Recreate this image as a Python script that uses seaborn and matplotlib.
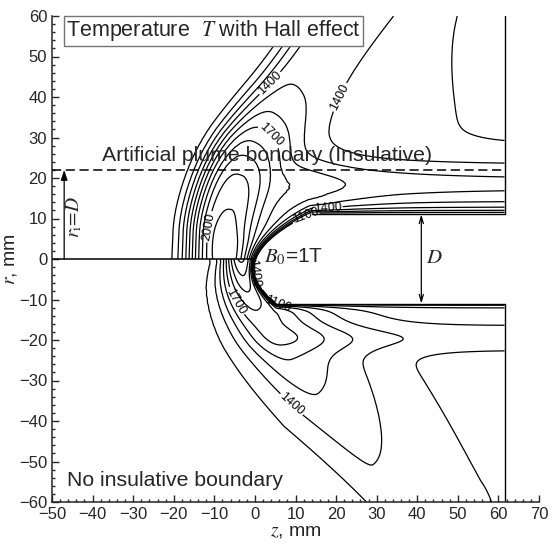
import numpy as np
import matplotlib
matplotlib.use("Agg")
import matplotlib.pyplot as plt
from matplotlib.ticker import MultipleLocator
import seaborn as sns

# temperature levels, K
levels = np.arange(1100, 2200, 100)

# geometry, mm
z_lim = (-50, 70)
r_lim = (-60, 60)
z_exit = 61.5          # right end of the computed region
r_wall = 11.0          # channel walls at r = +-11
r_plume = 22.0         # artificial plume boundary, r_i = D
nose_r0 = -2.5         # axis of the rounded nose
nose_len = 14.0
nose_half = 13.5
z_arrow_ri = -47.0
z_arrow_D = 41.0

# upper half (insulative boundary): hot plume ridge
up_ridge_z = [-6.5, -6.5, -6.5, -3, 3, 10, 17, 23, 30]
up_ridge_r = [-5, 2, 10, 22, 32, 42, 53, 62, 72]
up_floor, up_tail, up_peak, up_s0, up_len = 1000, 455, 680, 30.0, 6.4
up_core_amp, up_core_z, up_core_r = 60, -7.5, 3.0
up_wall_T, up_wall_len = 950, 1.1
# warm right side, cool top-right pocket, warm layer over the upper wall
up_side_base, up_side_frac, up_side_len = 290, 0.9, 16.4
up_pocket_amp, up_pocket_z, up_pocket_r = 60, 66.0, 62.0
up_layer_amp, up_layer_r, up_layer_w = 225, 18.5, 6.0

# lower half (no insulative boundary): diagonal hot tongue
lo_ridge_z = [-3.5, -3.5, -1.5, 6, 28, 40]
lo_ridge_r = [5, 0, -9, -21, -49, -66]
lo_floor, lo_tail, lo_peak, lo_len = 1250, 80, 800, 25
lo_wall_T, lo_wall_len = 950, 0.6
lo_layer_amp, lo_layer_r, lo_layer_w = 110, -19.5, 3.5

# contour labels: level and where it sits
up_labels = [(1400, 1, 46), (1400, 25, 38), (1400, 18, 14.5), (1700, 1, 28),
             (2000, -12, 8), (1100, 12, 11.6)]
lo_labels = [(1400, -0.5, -3.5), (1400, 8.5, -36.5), (1700, -8, -12), (1100, 12, -11.3)]


def sig(v):
    return 1.0 / (1.0 + np.exp(-v))


def smooth_path(pz, pr, rounds=3):
    p = np.column_stack([pz, pr]).astype(float)
    for _ in range(rounds):
        q = 0.75 * p[:-1] + 0.25 * p[1:]
        r = 0.25 * p[:-1] + 0.75 * p[1:]
        mid = np.empty((2 * len(q), 2))
        mid[0::2], mid[1::2] = q, r
        p = np.vstack([p[:1], mid[1:-1], p[-1:]])
    return p[:, 0], p[:, 1]


def ridge_frame(Z, R, pz, pr):
    pz, pr = smooth_path(pz, pr)
    best = np.full(Z.shape, np.inf)
    s_out = np.zeros(Z.shape)
    n_out = np.zeros(Z.shape)
    s0 = 0.0
    for az, ar, bz, br in zip(pz[:-1], pr[:-1], pz[1:], pr[1:]):
        L = np.hypot(bz - az, br - ar)
        uz, ur = (bz - az) / L, (br - ar) / L
        t = np.clip((Z - az) * uz + (R - ar) * ur, 0, L)
        d = np.hypot(Z - az - t * uz, R - ar - t * ur)
        side = np.where(uz * (R - ar) - ur * (Z - az) >= 0, 1.0, -1.0)
        m = d < best
        best[m] = d[m]
        s_out[m] = s0 + t[m]
        n_out[m] = side[m] * d[m]
        s0 += L
    return s_out, n_out


def nose_z(r):
    return nose_len * ((r - nose_r0) / nose_half) ** 2


def body_distance(Z, R):
    rs = np.linspace(-r_wall, r_wall, 500)
    zs = nose_z(rs)
    d = np.full(Z.shape, np.inf)
    for zz, rr in zip(zs, rs):
        d = np.minimum(d, np.hypot(Z - zz, R - rr))
    for rw in (r_wall, -r_wall):
        z0 = nose_z(rw)
        dw = np.where(Z >= z0, np.abs(R - rw), np.hypot(Z - z0, R - rw))
        d = np.minimum(d, dw)
    inside = (np.abs(R) <= r_wall) & (Z >= nose_z(np.clip(R, -r_wall, r_wall)))
    return d, inside


def upper_field(Z, R):
    s, n = ridge_frame(Z, R, up_ridge_z, up_ridge_r)
    s = np.clip(s - 5, 0, None)
    E = up_tail + up_peak / (1 + np.exp((s - up_s0) / up_len))
    w_left = 10.4 - 0.03 * s
    w_right = 9.0 + 0.2 * s
    prof = np.where(n > 0, np.exp(-(np.abs(n) / w_left) ** 3),
                    np.exp(-(np.abs(n) / w_right) ** 2))
    P = E * prof
    P = P + up_core_amp * np.exp(-((Z - up_core_z) / 4.5) ** 2 - ((R - up_core_r) / 6) ** 2)
    B = up_side_base + up_side_frac * (E - up_side_base) * np.exp(-np.abs(n) / up_side_len)
    B = B * sig(-n / 1.5)
    B = B - up_pocket_amp * np.exp(-((Z - up_pocket_z) / 18) ** 2 - ((R - up_pocket_r) / 22) ** 2)
    B = B + up_layer_amp * np.exp(-((R - up_layer_r) / up_layer_w) ** 2) * sig((Z - 8) / 4)
    q = 10.0
    M = (np.clip(P, 1, None) ** q + np.clip(B, 1, None) ** q) ** (1 / q)
    T = up_floor + M
    d, inside = body_distance(Z, R)
    T = up_wall_T + (T - up_wall_T) * (1 - np.exp(-d / up_wall_len))
    return np.ma.masked_where(inside, T)


def lower_field(Z, R):
    s, n = ridge_frame(Z, R, lo_ridge_z, lo_ridge_r)
    s = np.clip(s - 5, 0, None)
    E = lo_tail + lo_peak * np.exp(-s / lo_len)
    w_out = 4.6 + 5 * (1 - np.exp(-s / 15)) - 0.1 * np.clip(s - 40, 0, None)
    w_in = 5 + 17 * (1 - np.exp(-s / 25))
    w = np.where(n < 0, w_out, w_in)
    D = E * np.exp(-(np.abs(n) / w) ** 2)
    H = lo_layer_amp * np.exp(-((R - lo_layer_r) / lo_layer_w) ** 2) * sig((Z - 4) / 3)
    T = lo_floor + D + H
    d, inside = body_distance(Z, R)
    T = lo_wall_T + (T - lo_wall_T) * (1 - np.exp(-d / lo_wall_len))
    return np.ma.masked_where(inside, T)


def put_labels(ax, cs, spots):
    pts = []
    for lev, x0, y0 in spots:
        k = list(cs.levels).index(lev)
        segs = [s for s in cs.allsegs[k] if len(s)]
        if not segs:
            continue
        v = np.vstack(segs)
        i = np.argmin(np.hypot(v[:, 0] - x0, v[:, 1] - y0))
        pts.append((v[i, 0], v[i, 1]))
    if pts:
        ax.clabel(cs, levels=cs.levels, manual=pts, inline=True, fmt="%d",
                  fontsize=9, inline_spacing=2)


z = np.arange(z_lim[0], z_exit + 0.01, 0.25)
r_up = np.arange(0, r_lim[1] + 0.01, 0.25)
r_lo = np.arange(r_lim[0], 0.01, 0.25)
Zu, Ru = np.meshgrid(z, r_up)
Zl, Rl = np.meshgrid(z, r_lo)
T_up = upper_field(Zu, Ru)
T_lo = lower_field(Zl, Rl)

sns.set_style("ticks")
plt.rcParams["font.family"] = ["Liberation Sans", "DejaVu Sans"]
plt.rcParams["mathtext.fontset"] = "stix"

fig = plt.figure(figsize=(5.52, 5.47), dpi=100)
ax = fig.add_axes([52 / 552, 1 - 502 / 547, 487 / 552, 486 / 547])

cs_up = ax.contour(Zu, Ru, T_up, levels=levels, colors="k", linewidths=0.9)
cs_lo = ax.contour(Zl, Rl, T_lo, levels=levels, colors="k", linewidths=0.9)
put_labels(ax, cs_up, up_labels)
put_labels(ax, cs_lo, lo_labels)

# boundaries
ax.plot([z_lim[0], 0], [0, 0], color="k", lw=1.1)
ax.plot([z_lim[0], z_exit], [r_plume, r_plume], color="k", lw=1.1, ls=(0, (6, 3)))
ax.plot([z_exit, z_exit], [r_wall, r_lim[1]], color="k", lw=1.0)
ax.plot([z_exit, z_exit], [-r_wall, r_lim[0]], color="k", lw=1.0)
ax.plot([nose_z(r_wall), z_exit], [r_wall, r_wall], color="k", lw=1.0)
ax.plot([nose_z(-r_wall), z_exit], [-r_wall, -r_wall], color="k", lw=1.0)

ax.annotate("", xy=(z_arrow_ri, r_plume), xytext=(z_arrow_ri, 0),
            arrowprops=dict(arrowstyle="-|>,head_length=0.6,head_width=0.2", color="k", lw=0.9,
                            shrinkA=0, shrinkB=0))
ax.text(z_arrow_ri + 2.4, 10.5, r"$r_{\rm i}\!=\!D$", rotation=90, fontsize=14,
        ha="center", va="center")
ax.annotate("", xy=(z_arrow_D, r_wall), xytext=(z_arrow_D, -r_wall),
            arrowprops=dict(arrowstyle="<->,head_length=0.5,head_width=0.15", color="k", lw=0.9,
                            shrinkA=0, shrinkB=0))
ax.text(z_arrow_D + 3.3, 0.3, r"$D$", fontsize=15, ha="center", va="center")
ax.text(2.3, 0.5, r"$B_0$=1T", fontsize=15, ha="left", va="center")

ax.text(-46.6, 56.3, r"Temperature  $T$ with Hall effect", fontsize=15.5, ha="left", va="center",
        bbox=dict(boxstyle="square,pad=0.1", fc="white", ec="0.45", lw=1.0), zorder=5)
ax.text(3.0, 25.6, "Artificial plume bondary (Insulative)", fontsize=15.3, ha="center", va="center")
ax.text(-46.3, -54.8, "No insulative boundary", fontsize=15.3, ha="left", va="center")

ax.set_xlim(*z_lim)
ax.set_ylim(*r_lim)
ax.xaxis.set_major_locator(MultipleLocator(10))
ax.yaxis.set_major_locator(MultipleLocator(10))
ax.xaxis.set_minor_locator(MultipleLocator(2))
ax.yaxis.set_minor_locator(MultipleLocator(2))
ax.tick_params(which="both", direction="in", labelsize=12, width=1.0, top=False, right=False)
ax.tick_params(which="major", length=5)
ax.tick_params(which="minor", length=2.5)
sns.despine(ax=ax)
for sp in ("left", "bottom"):
    ax.spines[sp].set_linewidth(1.1)
ax.set_xlabel(r"$z$, mm", fontsize=14, labelpad=1)
ax.set_ylabel(r"$r$, mm", fontsize=14, labelpad=0)

fig.savefig("out.png", dpi=100)
